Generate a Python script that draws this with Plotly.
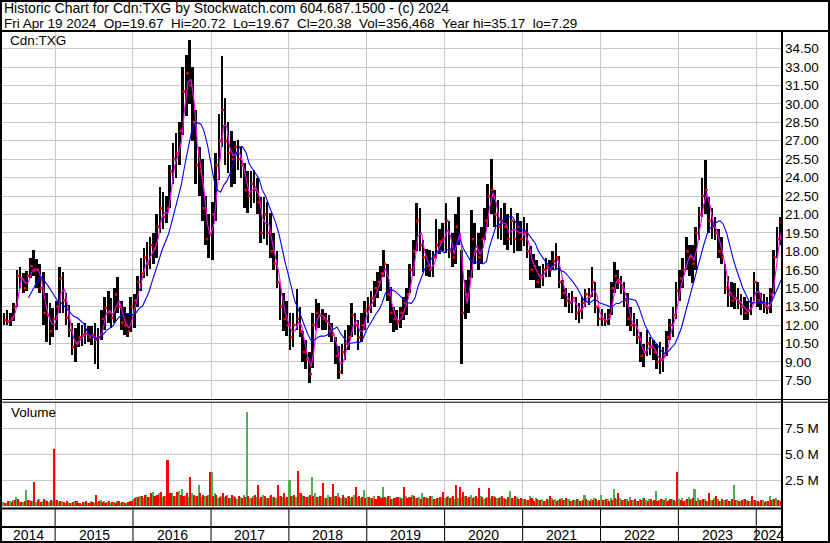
import pandas as pd
import plotly.graph_objects as go

W, H = 830, 543
def px(x): return x / W
def py(y): return 1 - y / H

DAY = 86400000

# semi-monthly periods (1st / 15th), May 2014 .. Apr 2024
dates = pd.date_range("2014-05-01", periods=240, freq="SMS")

high = [
    13.0,13.2,13.0,13.8,16.5,16.7,16.2,16.4,17.5,18.1,17.4,17.0,16.3,14.6,13.8,13.4,
    14.0,16.7,16.3,14.6,13.6,12.2,11.8,12.2,12.0,12.2,11.9,11.9,12.2,11.8,13.2,14.3,14.8,14.2,15.0,15.9,14.0,13.5,13.0,14.3,
    14.5,16.0,17.5,18.3,18.8,19.2,19.5,21.0,23.2,22.8,22.5,25.0,26.8,27.6,28.5,33.0,34.0,35.17,33.0,29.5,26.5,25.5,22.5,21.0,
    22.0,26.0,29.2,33.9,30.5,28.5,27.8,27.0,27.1,26.5,25.2,24.5,24.5,24.6,24.0,22.4,22.4,22.0,21.1,19.5,18.0,15.4,14.6,14.0,
    13.0,13.0,14.9,13.5,11.5,10.8,9.8,13.0,14.1,13.8,13.3,13.0,12.8,12.2,11.0,10.3,10.5,11.6,12.0,13.8,13.0,12.4,13.0,14.0,
    14.3,14.8,15.6,16.3,16.8,18.1,17.0,15.1,13.5,13.2,13.5,14.3,15.0,17.0,18.9,21.9,21.5,18.9,18.2,18.1,18.0,20.6,19.8,20.3,
    21.9,20.5,19.5,21.0,22.4,18.1,15.7,16.5,21.4,20.3,19.5,20.0,21.5,23.5,25.5,23.0,22.2,21.5,21.9,21.0,21.5,20.5,21.1,20.5,
    20.8,20.3,18.4,17.8,17.3,16.8,17.0,17.5,17.3,18.0,18.7,17.6,15.7,15.0,14.6,14.8,14.3,13.8,14.3,14.9,15.0,16.7,15.5,13.5,
    13.3,13.0,13.3,15.5,17.1,16.5,16.0,15.5,14.6,13.5,13.0,12.5,11.4,10.5,11.6,11.0,10.8,10.5,10.6,10.2,11.5,12.5,13.5,15.5,
    16.5,17.5,19.2,18.5,18.5,20.0,21.6,24.0,25.4,22.4,21.5,20.8,19.8,19.2,17.0,16.0,15.5,15.4,15.0,14.5,14.3,14.0,14.3,16.3,
    15.5,14.6,14.5,14.3,15.0,18.1,20.0,20.8,
]
low = [
    12.0,12.0,11.9,12.3,13.5,15.0,14.6,14.8,15.8,16.0,15.0,14.6,12.0,10.6,10.4,11.0,
    11.6,13.0,13.0,12.0,11.0,9.6,9.0,10.2,10.3,10.5,10.6,10.4,8.8,8.4,10.8,11.6,12.2,11.8,12.2,13.0,11.6,11.2,11.0,11.4,
    11.8,13.5,14.8,15.8,16.0,16.6,17.0,17.5,19.5,19.8,20.3,21.5,23.5,24.0,25.0,27.5,29.0,30.0,27.0,23.5,22.5,20.5,18.5,17.5,
    17.3,20.5,23.8,26.5,25.0,24.4,23.2,23.5,24.6,24.0,21.5,21.1,21.5,21.9,21.0,18.7,19.0,18.5,17.5,16.5,15.0,12.4,11.5,11.1,
    10.0,10.2,11.6,11.0,9.0,8.4,7.29,8.5,11.6,11.8,11.6,11.6,11.0,10.6,8.8,7.6,8.0,9.2,10.0,11.0,11.2,10.0,10.6,11.6,
    12.2,13.0,13.5,14.2,14.8,15.9,14.0,12.2,11.4,11.6,11.8,12.4,12.8,14.6,16.0,18.0,18.0,16.3,16.0,15.9,15.9,17.5,17.8,18.0,
    17.9,17.5,16.7,17.0,18.5,8.8,12.5,13.0,15.8,17.0,16.5,17.0,18.9,20.0,21.0,20.0,19.0,18.9,18.5,18.1,18.5,17.9,18.0,18.0,
    18.4,17.5,15.7,15.7,15.0,15.0,15.2,15.9,15.9,16.5,16.6,15.0,14.1,13.5,13.0,13.0,12.4,12.2,12.5,13.5,13.6,14.3,13.0,11.9,
    11.9,11.9,12.0,12.8,14.6,14.9,14.5,13.5,11.9,11.5,11.1,10.5,9.0,8.6,9.5,9.6,9.2,8.4,8.0,8.2,9.5,10.8,11.0,12.5,
    14.0,15.0,16.5,16.0,15.4,16.5,18.9,20.8,21.0,19.5,19.0,18.9,17.5,17.0,14.5,13.5,13.5,13.3,13.3,12.8,12.4,12.4,12.8,14.0,
    13.5,13.2,13.0,12.9,13.0,14.5,17.5,18.5,
]
close = [
    12.4,12.3,12.6,13.5,16.0,15.8,15.0,16.0,16.8,16.4,16.5,15.0,13.0,12.8,11.5,12.5,
    13.5,15.8,14.0,12.6,11.6,10.2,10.6,11.0,11.2,11.3,11.0,11.2,10.8,11.0,12.5,13.4,13.0,12.6,14.5,13.5,12.2,12.0,11.5,13.5,
    14.0,15.5,16.2,17.5,17.0,18.5,18.2,20.0,21.5,20.8,21.5,24.5,25.5,26.0,27.8,31.0,32.5,31.5,28.5,25.0,24.5,21.5,19.0,19.5,
    21.0,25.0,27.0,29.5,27.0,26.0,25.5,26.5,25.5,25.0,23.0,22.5,23.5,23.0,22.0,19.5,21.0,19.5,18.0,17.0,15.5,13.5,12.5,12.0,
    11.0,12.0,12.5,11.5,9.8,9.2,8.0,12.0,13.0,12.8,12.5,12.3,11.5,11.2,9.5,8.2,9.8,10.5,11.0,12.8,12.0,11.0,12.0,13.2,
    13.5,14.2,15.0,15.5,16.2,17.0,14.5,13.0,12.5,12.2,13.0,13.8,14.5,16.5,18.0,20.5,18.5,17.5,16.8,16.5,17.5,18.5,18.8,19.0,
    20.5,18.0,17.5,20.0,19.0,13.0,14.5,15.8,19.0,18.0,17.5,19.0,20.5,22.5,23.0,21.0,20.0,20.5,20.0,19.0,20.5,19.0,20.0,19.0,
    19.5,18.0,16.5,16.8,15.5,16.0,16.5,16.8,16.5,17.2,17.5,15.5,14.6,14.0,13.8,14.2,13.0,13.2,13.8,14.5,14.3,15.5,13.5,12.5,
    12.5,12.3,12.8,15.0,16.0,15.5,15.0,14.0,12.5,12.0,12.0,11.0,9.5,9.8,10.5,10.2,9.8,9.0,9.2,9.5,11.0,12.0,12.8,14.8,
    15.8,16.5,18.0,17.5,17.0,19.5,21.0,22.5,23.0,20.5,20.0,19.5,18.0,17.5,15.0,14.5,14.0,14.2,13.8,13.5,13.0,13.2,13.8,15.5,
    14.0,13.8,13.5,13.4,14.5,17.5,19.0,20.38,
]
# volume in millions: up-days (green) and down-days (red) per period
vol_up = [
    0.4,0.3,0.5,0.6,0.9,0.5,0.4,1.5,0.6,0.5,0.4,0.7,0.5,0.6,0.4,0.5,
    0.6,0.4,0.5,0.3,0.4,0.3,0.5,0.3,0.2,0.4,0.3,0.5,0.3,0.4,0.6,0.5,0.4,0.3,0.4,0.5,0.3,0.4,0.3,0.5,
    0.7,0.9,1.0,0.8,1.1,0.9,1.3,1.0,1.2,0.9,1.0,1.1,1.2,1.0,1.4,1.6,1.1,0.9,1.2,1.0,2.0,0.9,1.0,1.1,
    3.3,1.2,0.8,1.0,0.9,1.1,0.8,1.0,0.7,0.9,1.1,9.1,0.8,1.0,0.9,0.7,1.1,0.8,1.0,0.9,0.8,1.0,0.9,0.8,
    2.5,1.0,0.9,1.2,1.1,0.9,1.0,2.8,1.2,0.9,1.0,0.8,1.1,0.9,1.0,1.2,0.8,0.9,1.0,0.8,1.1,0.9,0.8,1.5,
    0.9,0.8,1.0,0.7,0.9,1.8,0.8,1.0,0.7,0.8,0.9,0.8,1.0,0.9,1.1,0.8,0.9,1.2,0.9,0.8,1.0,0.7,0.8,0.9,
    0.8,1.0,0.9,0.7,0.8,0.9,1.0,0.8,1.1,0.9,0.8,1.0,0.7,0.9,0.8,1.0,0.8,0.9,0.8,0.7,1.4,0.8,0.9,0.7,
    0.7,0.6,1.0,0.7,0.8,0.6,0.7,0.5,0.6,0.8,0.7,0.6,0.8,0.6,0.7,0.5,0.6,0.7,0.5,1.1,0.6,0.7,0.8,0.5,
    1.1,0.6,0.7,0.8,1.6,0.7,0.8,0.6,0.7,0.9,0.6,0.5,0.7,0.8,0.6,0.7,0.5,1.4,0.6,0.7,0.8,0.6,0.7,0.5,
    0.7,0.8,0.6,0.9,0.7,1.6,0.8,0.6,0.7,0.5,0.6,0.8,0.7,0.5,0.6,0.7,0.5,2.0,0.6,0.5,0.7,0.6,0.5,0.6,
    0.5,0.4,0.6,0.5,1.0,0.7,0.8,0.6,
]
vol_dn = [
    0.3,0.5,0.4,0.6,0.7,0.4,0.5,0.6,0.5,2.3,0.6,0.4,0.7,0.5,0.6,5.5,
    0.6,0.5,0.4,0.5,0.3,0.4,0.5,0.3,0.4,0.5,0.3,0.4,1.1,0.5,0.4,0.3,0.5,0.4,0.3,0.5,0.4,0.3,0.4,0.5,
    0.8,0.9,1.0,1.1,0.9,1.2,1.0,1.1,1.3,1.0,4.4,1.2,1.0,1.3,1.1,1.0,1.2,2.8,1.1,1.0,1.2,1.1,1.0,3.3,
    1.0,1.1,0.9,1.2,1.0,0.8,1.1,0.9,1.0,0.8,0.9,1.0,0.8,1.1,2.0,0.9,1.0,0.8,1.1,0.9,2.0,1.0,1.2,0.9,
    1.0,1.1,3.4,1.2,1.0,0.9,1.1,1.0,0.9,1.0,2.2,0.8,0.9,2.1,1.0,0.9,1.1,0.8,1.0,0.9,1.8,1.0,0.9,0.8,
    0.9,0.8,0.7,1.0,0.8,0.9,1.0,0.7,0.8,0.9,0.7,1.8,0.8,0.9,1.0,0.8,0.7,0.9,0.8,1.0,0.7,0.8,0.9,1.3,
    0.9,0.8,1.0,2.0,1.8,1.3,1.0,0.9,0.8,1.0,1.7,0.9,0.8,1.7,1.0,0.9,0.8,1.0,0.7,0.9,0.8,1.0,0.7,0.8,
    0.7,0.6,0.8,0.5,0.7,0.6,0.5,0.7,1.0,0.6,0.5,0.7,0.6,0.8,0.5,0.6,0.7,0.5,0.6,0.7,0.5,0.6,0.7,0.6,
    0.6,0.7,0.5,0.6,0.8,1.2,0.6,0.7,0.5,0.6,0.7,0.5,0.6,0.8,0.5,0.7,0.6,0.5,0.7,0.6,0.5,0.7,0.6,3.3,
    0.6,0.5,0.7,0.6,0.8,0.5,0.6,0.7,0.5,1.2,0.6,1.0,0.5,0.7,0.6,0.5,0.7,0.6,0.5,0.6,0.7,0.5,1.0,0.6,
    0.5,0.6,0.4,0.5,0.6,0.7,0.6,0.5,
]

price_ticks = [7.5, 9.0, 10.5, 12.0, 13.5, 15.0, 16.5, 18.0, 19.5, 21.0, 22.5, 24.0,
               25.5, 27.0, 28.5, 30.0, 31.5, 33.0, 34.5]
price_labels = ["7.50", "9.00", "10.50", "12.00", "13.50", "15.00", "16.50", "18.00",
                "19.50", "21.00", "22.50", "24.00", "25.50", "27.00", "28.50", "30.00",
                "31.50", "33.00", "34.50"]
vol_ticks = [2.5, 5.0, 7.5]
vol_labels = ["2.5 M", "5.0 M", "7.5 M"]
year_starts = ["2015-01-01", "2016-01-01", "2017-01-01", "2018-01-01", "2019-01-01",
               "2020-01-01", "2021-01-01", "2022-01-01", "2023-01-01", "2024-01-01"]
year_labels = ["2014", "2015", "2016", "2017", "2018", "2019", "2020", "2021", "2022",
               "2023", "2024"]
x_start, x_end = "2014-04-27", "2024-04-26"

header1 = "Historic Chart for Cdn:TXG by Stockwatch.com 604.687.1500 - (c) 2024"
header2 = ("Fri Apr 19 2024\u00a0\u00a0Op=19.67\u00a0\u00a0Hi=20.72\u00a0\u00a0Lo=19.67"
           "\u00a0\u00a0Cl=20.38\u00a0\u00a0Vol=356,468\u00a0\u00a0Year hi=35.17\u00a0\u00a0lo=7.29")

FONT = "Liberation Sans, Arial, sans-serif"
GRID = "#c8c8c8"

fig = go.Figure()

# price range bars (low -> high)
fig.add_trace(go.Bar(
    x=dates, y=[h - l for h, l in zip(high, low)], base=low,
    offset=0, width=12 * DAY,
    marker=dict(color="black", line=dict(width=0)),
    xaxis="x", yaxis="y", hoverinfo="skip"))
# closes
fig.add_trace(go.Scatter(
    x=dates + pd.Timedelta(days=12), y=close, mode="markers",
    marker=dict(symbol="square", size=2.5, color="#ff0000", line=dict(width=0)),
    xaxis="x", yaxis="y", hoverinfo="skip"))
# moving averages of closes
close_s = pd.Series(close)
ma_x = dates + pd.Timedelta(days=14)
fig.add_trace(go.Scatter(x=ma_x, y=close_s.rolling(2).mean(), mode="lines",
                         line=dict(color="#ff00ff", width=1.1), xaxis="x", yaxis="y"))
fig.add_trace(go.Scatter(x=ma_x, y=close_s.rolling(8).mean(), mode="lines",
                         line=dict(color="#0000ff", width=1.1), xaxis="x", yaxis="y"))
# volume
fig.add_trace(go.Bar(x=dates, y=vol_up, offset=0, width=7.5 * DAY,
                     marker=dict(color="#4cb14c", line=dict(width=0)),
                     xaxis="x", yaxis="y2", hoverinfo="skip"))
fig.add_trace(go.Bar(x=dates, y=vol_dn, offset=7.5 * DAY, width=7.5 * DAY,
                     marker=dict(color="#ff0000", line=dict(width=0)),
                     xaxis="x", yaxis="y2", hoverinfo="skip"))

# axis mapping
def price_at(y): return 7.5 + (380.4 - y) / 12.29
def vol_at(y): return (505.9 - y) / 10.34

shapes = []
def hline(y, x0, x1, w=1):
    shapes.append(dict(type="line", xref="paper", yref="paper", x0=px(x0), x1=px(x1),
                       y0=py(y), y1=py(y), line=dict(color="black", width=w), layer="above"))
def vline(x, y0, y1, w=1):
    shapes.append(dict(type="line", xref="paper", yref="paper", x0=px(x), x1=px(x),
                       y0=py(y0), y1=py(y1), line=dict(color="black", width=w), layer="above"))

shapes.append(dict(type="rect", xref="paper", yref="paper", x0=px(1), x1=px(829),
                   y0=py(542), y1=py(1), line=dict(color="black", width=2), layer="above"))
hline(31, 0, 830, 2)
hline(399.5, 0, 830, 1)
hline(402.2, 0, 830, 1)
hline(508.5, 0, 782, 2)
hline(527, 0, 782, 2)
vline(782, 31, 543, 2)
for ys in year_starts:
    shapes.append(dict(type="line", xref="x", yref="paper", x0=ys, x1=ys,
                       y0=py(509), y1=py(541), line=dict(color="black", width=1), layer="above"))

annotations = [
    dict(text=header1, x=px(2), y=py(7.8), size=14),
    dict(text=header2, x=px(2), y=py(23.3), size=13.5),
    dict(text="Cdn:TXG", x=px(8), y=py(40.5), size=13.5),
    dict(text="Volume", x=px(9), y=py(413), size=13.5),
]
for a in annotations:
    sz = a.pop("size")
    a.update(xref="paper", yref="paper", xanchor="left", yanchor="middle", showarrow=False,
             font=dict(family=FONT, size=sz, color="black"))

bounds = [pd.Timestamp(x_start)] + [pd.Timestamp(s) for s in year_starts] + [pd.Timestamp(x_end)]
for i, lab in enumerate(year_labels):
    mid = bounds[i] + (bounds[i + 1] - bounds[i]) / 2
    annotations.append(dict(text=lab, x=mid, y=py(535), xref="x", yref="paper",
                            xanchor="center", yanchor="middle", showarrow=False,
                            font=dict(family=FONT, size=14, color="black")))

fig.update_layout(
    width=W, height=H, autosize=False,
    margin=dict(l=0, r=0, t=0, b=0, pad=0),
    paper_bgcolor="white", plot_bgcolor="white",
    showlegend=False, barmode="overlay", bargap=0,
    xaxis=dict(domain=[px(2), px(781)], range=[x_start, x_end], type="date",
               tickvals=year_starts, showticklabels=False, ticks="",
               showgrid=True, gridcolor=GRID, gridwidth=1, zeroline=False, showline=False,
               anchor="y"),
    yaxis=dict(domain=[py(399), py(32)], range=[price_at(399), price_at(32)],
               side="right", anchor="x", tickvals=price_ticks, ticktext=price_labels,
               ticks="", ticklabelstandoff=3, showgrid=True, gridcolor=GRID, gridwidth=1,
               zeroline=False, showline=False,
               tickfont=dict(family=FONT, size=13.5, color="black")),
    yaxis2=dict(domain=[py(508), py(402)], range=[vol_at(508), vol_at(402)],
                side="right", anchor="x", tickvals=vol_ticks, ticktext=vol_labels,
                ticks="", ticklabelstandoff=3, showgrid=True, gridcolor=GRID, gridwidth=1,
                zeroline=False, showline=False,
                tickfont=dict(family=FONT, size=13.5, color="black")),
    shapes=shapes, annotations=annotations,
)

fig.write_html("out.html", config={"displayModeBar": False},
               post_script="document.body.style.margin='0';document.body.style.overflow='hidden';")
